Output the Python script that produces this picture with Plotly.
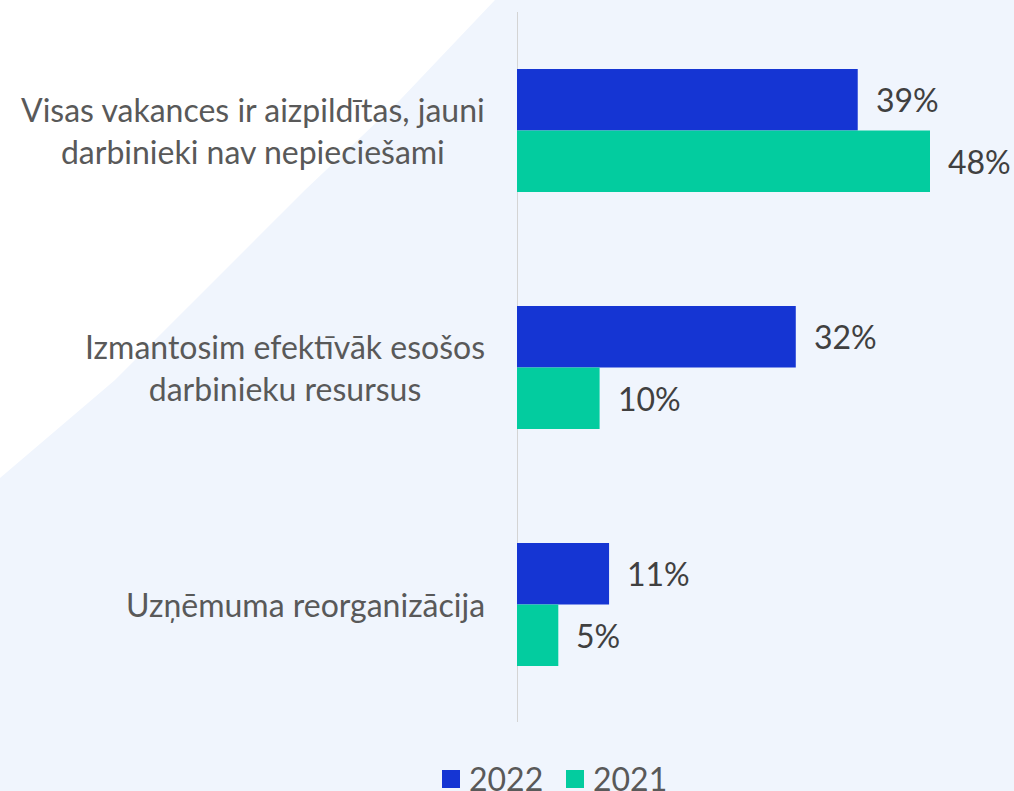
import plotly.graph_objects as go

categories = [
    "Visas vakances ir aizpildītas, jauni<br>darbinieki nav nepieciešami",
    "Izmantosim efektīvāk esošos<br>darbinieku resursus",
    "Uzņēmuma reorganizācija",
]
cat_keys = ["c1", "c2", "c3"]
series_names = ["2022", "2021"]
values_2022 = [39.6, 32.4, 10.7]
values_2021 = [48.0, 9.6, 4.8]
labels_2022 = ["39%", "32%", "11%"]
labels_2021 = ["48%", "10%", "5%"]
colors = ["#1535d3", "#03cc9f"]

W, H = 1014, 791
ML, MR, MT, MB = 517, 10, 12, 68
pw = W - ML - MR
ph = H - MT - MB
BARGAP = 0.48
cat_px = ph / len(cat_keys)
bar_shift = (1 - BARGAP) / 4 * cat_px  # pixel offset of each bar centre from category centre

def px(x):
    return (x - ML) / pw

def py(y):
    return (H - MB - y) / ph

fig = go.Figure()
for name, vals, col in [(series_names[0], values_2022, colors[0]),
                        (series_names[1], values_2021, colors[1])]:
    fig.add_trace(go.Bar(
        y=cat_keys, x=vals, name=name, orientation="h",
        marker=dict(color=col, line=dict(width=0)),
        showlegend=False, hoverinfo="x+name",
    ))

# value labels
for vals, labs, sh in [(values_2022, labels_2022, bar_shift), (values_2021, labels_2021, -bar_shift)]:
    for k, v, t in zip(cat_keys, vals, labs):
        fig.add_annotation(
            x=v, xref="x", y=k, yref="y", text=t, showarrow=False,
            xanchor="left", yanchor="middle", xshift=16, yshift=sh,
            font=dict(family="Lato", size=32, color="#404040"),
        )

# category labels
for k, c in zip(cat_keys, categories):
    fig.add_annotation(
        x=0, xref="paper", y=k, yref="y", text=c, showarrow=False,
        xanchor="right", yanchor="middle", align="center", xshift=-30,
        font=dict(family="Lato", size=32, color="#595959"),
    )

# background white corner
pts = [(0, 0), (495, 0), (400, 100), (305, 190), (215, 280), (115, 380), (0, 478)]
path = "M " + " L ".join(f"{px(a):.4f},{py(b):.4f}" for a, b in pts) + " Z"
fig.add_shape(type="path", path=path, xref="paper", yref="paper",
              fillcolor="white", line=dict(width=0), layer="below")

# axis line
fig.add_shape(type="line", x0=0, x1=0, xref="x", y0=py(12), y1=py(722), yref="paper",
              line=dict(color="#d4d4d4", width=2), layer="below")

# legend (drawn)
leg_items = [(series_names[0], colors[0], 442), (series_names[1], colors[1], 566)]
for name, col, x0 in leg_items:
    fig.add_shape(type="rect", xref="paper", yref="paper",
                  x0=px(x0), x1=px(x0 + 18), y0=py(770), y1=py(788),
                  fillcolor=col, line=dict(width=0))
    fig.add_annotation(x=px(x0 + 25), xref="paper", y=py(778), yref="paper",
                       text=name, showarrow=False, xanchor="left", yanchor="middle",
                       font=dict(family="Lato", size=32, color="#595959"))

fig.update_layout(
    width=W, height=H,
    margin=dict(l=ML, r=MR, t=MT, b=MB, pad=0, autoexpand=False),
    paper_bgcolor="#f0f5fd", plot_bgcolor="rgba(0,0,0,0)",
    barmode="group", bargap=BARGAP, bargroupgap=0,
    font=dict(family="Lato", size=32, color="#595959"),
    xaxis=dict(range=[0, 56.6], visible=False, fixedrange=True),
    yaxis=dict(categoryorder="array", categoryarray=cat_keys, autorange="reversed",
               showticklabels=False, showgrid=False, zeroline=False,
               showline=False, ticks="", fixedrange=True),
    showlegend=False,
)

fig.write_html("out.html", config={"displayModeBar": False},
               post_script="document.body.style.margin='0';document.body.style.overflow='hidden';")
